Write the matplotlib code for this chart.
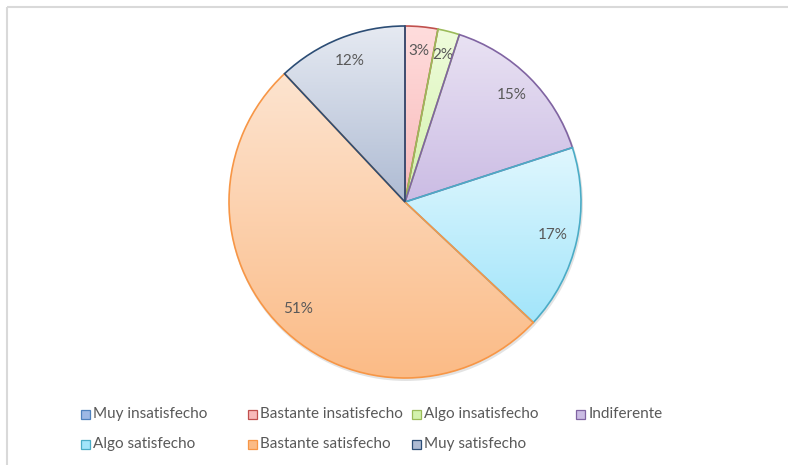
import numpy as np
import matplotlib
matplotlib.use("Agg")
import matplotlib.pyplot as plt
from matplotlib.colors import to_rgb
from matplotlib.patches import Rectangle, Circle

# satisfaction survey results (percent)
categories = ["Muy insatisfecho", "Bastante insatisfecho", "Algo insatisfecho",
              "Indiferente", "Algo satisfecho", "Bastante satisfecho", "Muy satisfecho"]
values = [0, 3, 2, 15, 17, 51, 12]

# outline colour and gradient (top, bottom) for each category
edge_colors = ["#4F81BD", "#C0504D", "#9BBB59", "#8064A2", "#4BACC6", "#F79646", "#2C4D75"]
grad_top = ["#D6E2F5", "#FFDDDD", "#EFFCDC", "#E9E2F3", "#E0F7FE", "#FDE4D0", "#E6EAF2"]
grad_bottom = ["#9DB8E5", "#F8B9B9", "#D3F2AC", "#CBBCE4", "#A2E5FA", "#FBBB86", "#AEBBD3"]

text_color = "#595959"
font = "Lato"

W, H = 788, 465
fig = plt.figure(figsize=(W / 100, H / 100), dpi=100)
ax = fig.add_axes([0, 0, 1, 1])
ax.set_xlim(0, W)
ax.set_ylim(0, H)
ax.axis("off")

cx, cy, R = 405, H - 202, 176

# soft shadow under the pie
ax.add_patch(Circle((cx + 1, cy - 2), R + 1, facecolor="#c8c8c8", edgecolor="none",
                    alpha=0.5, zorder=0))

wedges, texts = ax.pie(values, startangle=90, counterclock=False, center=(cx, cy),
                       radius=R, labels=[f"{v}%" if v > 0 else "" for v in values],
                       labeldistance=0.86, frame=True,
                       wedgeprops=dict(linewidth=1.2),
                       textprops=dict(color=text_color, fontsize=11, family=font))
ax.set_xlim(0, W)
ax.set_ylim(0, H)
ax.set_aspect("equal")
ax.axis("off")
for t in texts:
    t.set_ha("center")
    t.set_va("center")

fig.canvas.draw()
inv = ax.transData.inverted()
for i, w in enumerate(wedges):
    w.set_facecolor("none")
    w.set_edgecolor(edge_colors[i])
    w.set_zorder(3)
    if values[i] == 0:
        continue
    ext = w.get_window_extent()
    (x0, y0), (x1, y1) = inv.transform([[ext.x0, ext.y0], [ext.x1, ext.y1]])
    t = np.linspace(0, 1, 256)[:, None]
    top, bot = np.array(to_rgb(grad_top[i])), np.array(to_rgb(grad_bottom[i]))
    img = (bot * (1 - t) + top * t)[:, None, :]
    im = ax.imshow(img, extent=(x0, x1, y0, y1), origin="lower", aspect="auto",
                   interpolation="bilinear", zorder=2)
    im.set_clip_path(w)
ax.set_xlim(0, W)
ax.set_ylim(0, H)

# legend laid out in equal-width columns, four per row
col_x = [86, 253, 417, 581]
row_y = [H - 414, H - 444]
for i, name in enumerate(categories):
    x = col_x[i % 4]
    y = row_y[i // 4]
    ax.add_patch(Rectangle((x - 4.5, y - 4.5), 9, 9, facecolor=grad_bottom[i],
                           edgecolor=edge_colors[i], linewidth=0.9, zorder=4))
    ax.text(x + 7.5, y, name, color=text_color, fontsize=11, family=font,
            ha="left", va="center", zorder=4)

# chart area border (top and left edges)
ax.plot([7.5, W], [H - 7, H - 7], color="#d9d9d9", linewidth=1.5, solid_capstyle="butt")
ax.plot([7.5, 7.5], [0, H - 7], color="#d9d9d9", linewidth=1.5, solid_capstyle="butt")

fig.savefig("out.png", dpi=100, facecolor="white")
